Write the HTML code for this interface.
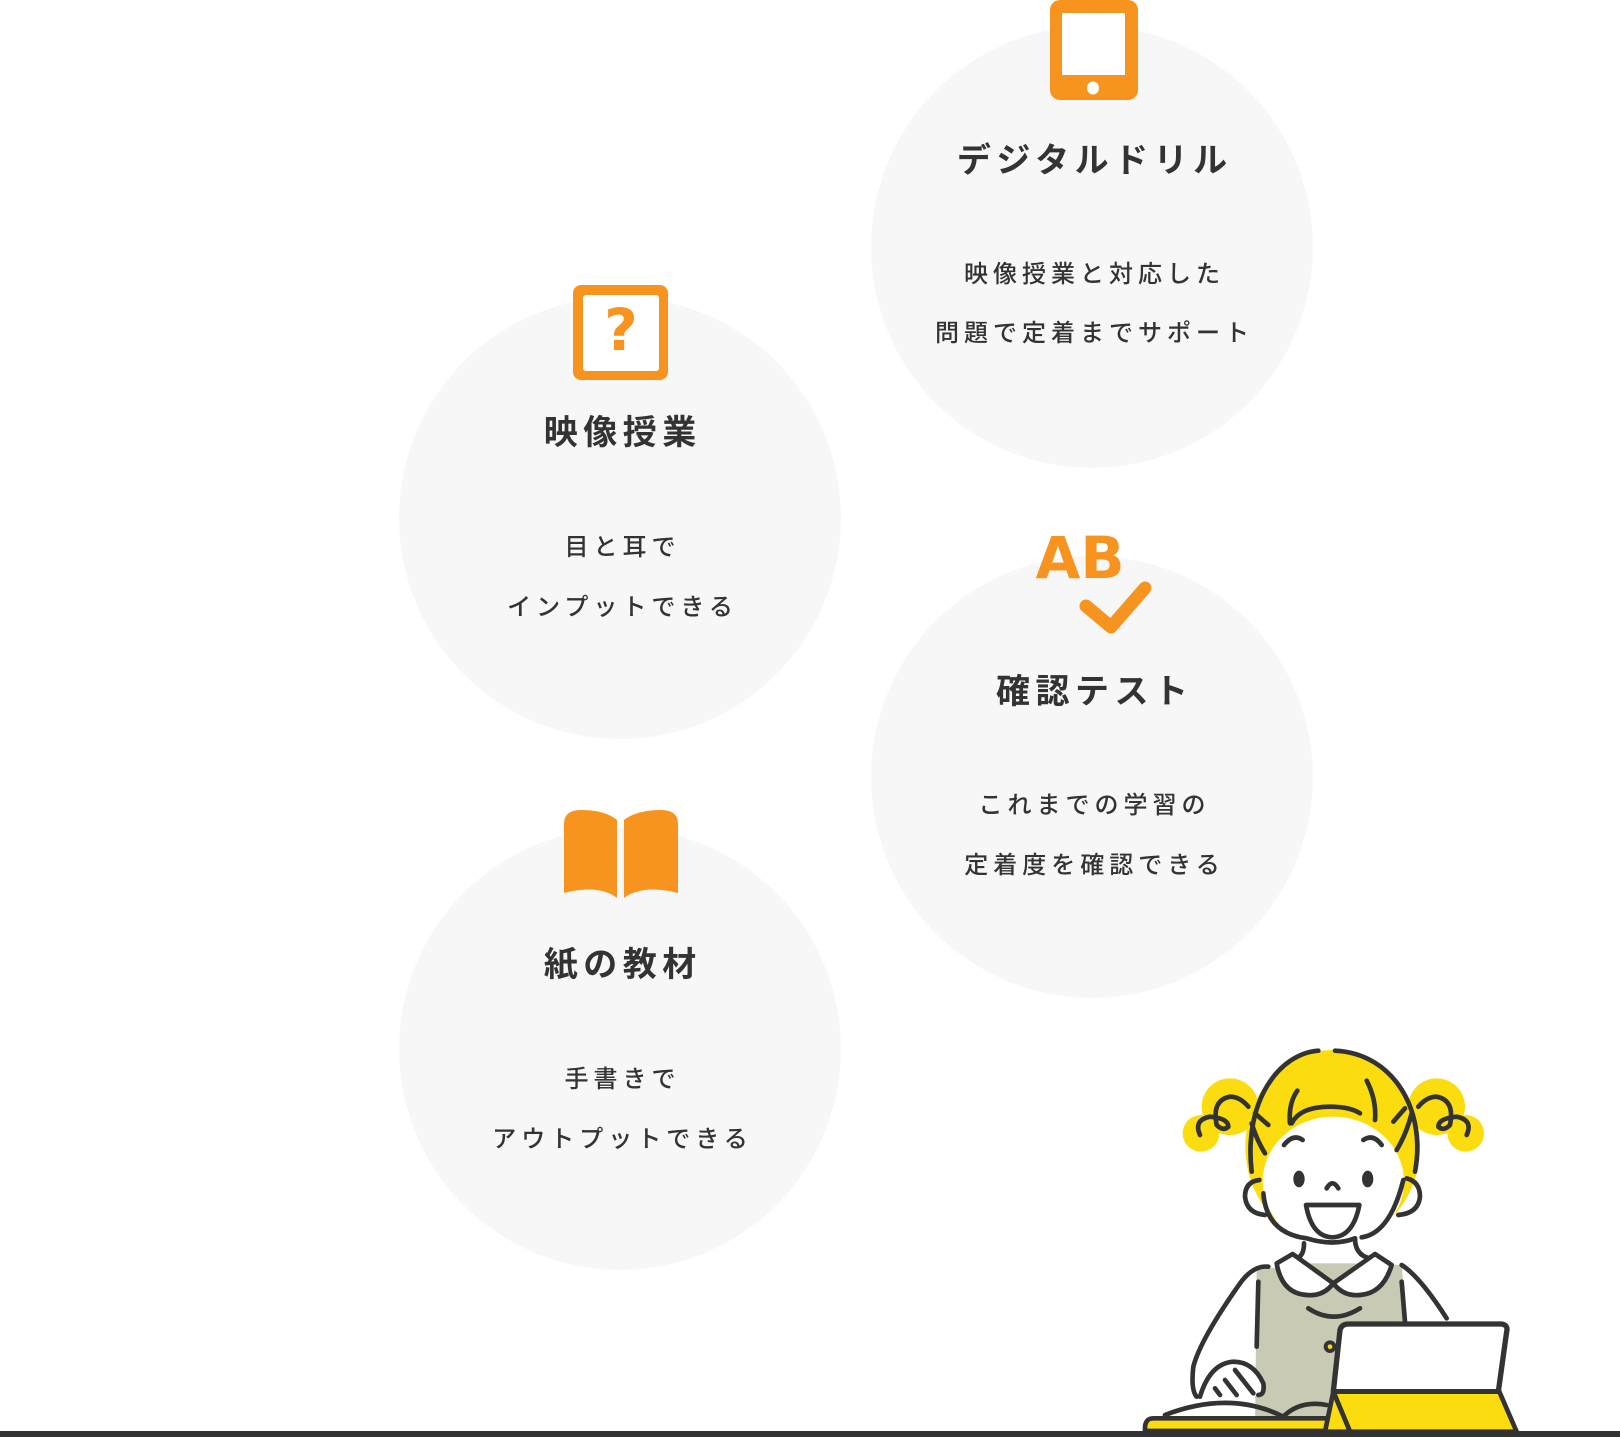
<!DOCTYPE html>
<html><head><meta charset="utf-8"><style>
html,body{margin:0;padding:0;background:#fff;}
body{width:1620px;height:1437px;position:relative;overflow:hidden;font-family:"Liberation Sans","Noto Sans CJK JP",sans-serif;color:#333;}
.c{position:absolute;border-radius:50%;background:#f7f7f7;width:442px;height:442px;}
.t{position:absolute;box-sizing:border-box;width:600px;text-align:center;font-weight:700;font-size:34px;letter-spacing:5.5px;padding-left:5.5px;line-height:40px;}
.d{position:absolute;box-sizing:border-box;width:600px;text-align:center;font-size:24px;font-weight:500;letter-spacing:5px;padding-left:5px;line-height:30px;}
svg{position:absolute;}
</style></head><body>
<div class="c" style="left:871px;top:26px"></div>
<div class="c" style="left:399px;top:297px"></div>
<div class="c" style="left:871px;top:556px"></div>
<div class="c" style="left:399px;top:828px"></div>

<div class="t" style="left:792px;top:141px">デジタルドリル</div>
<div class="d" style="left:792px;top:260px">映像授業と対応した</div>
<div class="d" style="left:792px;top:319px">問題で定着までサポート</div>

<div class="t" style="left:320px;top:413px">映像授業</div>
<div class="d" style="left:320px;top:533px">目と耳で</div>
<div class="d" style="left:320px;top:593px">インプットできる</div>

<div class="t" style="left:792px;top:672px">確認テスト</div>
<div class="d" style="left:792px;top:791px">これまでの学習の</div>
<div class="d" style="left:792px;top:851px">定着度を確認できる</div>

<div class="t" style="left:320px;top:945px">紙の教材</div>
<div class="d" style="left:320px;top:1065px">手書きで</div>
<div class="d" style="left:320px;top:1125px">アウトプットできる</div>

<svg width="1620" height="1437" style="left:0;top:0">
 <g fill="#f7941f">
  <rect x="1050" y="0" width="88" height="100" rx="10"/>
  <rect x="1062" y="13" width="63" height="62" fill="#fff"/>
  <ellipse cx="1093" cy="88" rx="6" ry="6.5" fill="#fff"/>
  <rect x="573" y="285" width="95" height="95" rx="8"/>
  <rect x="583" y="295" width="76" height="76" rx="3" fill="#fff"/>
  <text x="621" y="350" text-anchor="middle" font-size="58" font-weight="700" font-family="DejaVu Sans,sans-serif">?</text>
  <text x="1080" y="578" text-anchor="middle" font-size="58" font-weight="700" font-family="DejaVu Sans,sans-serif">AB</text>
  <path d="M564,824 Q564,810 581,810 Q605,810 617,820 L617,898 Q599,884 564,893 Z"/>
  <path d="M678,824 Q678,810 661,810 Q637,810 624,820 L624,898 Q643,884 678,893 Z"/>
 </g>
 <path d="M1086,606 L1111,627 L1145,588" fill="none" stroke="#f7941f" stroke-width="13" stroke-linecap="round" stroke-linejoin="round"/>
 <rect x="0" y="1431" width="1620" height="6" fill="#333"/>
</svg>

<svg viewBox="0 0 1560 1311" width="520" height="437" style="left:1100px;top:1000px">
 <g fill="#fbdc0e">
  <ellipse cx="698" cy="440" rx="262" ry="290"/>
  <circle cx="390" cy="320" r="85"/><circle cx="303" cy="400" r="55"/>
  <circle cx="1010" cy="320" r="85"/><circle cx="1097" cy="400" r="55"/>
 </g>
 <ellipse cx="700" cy="545" rx="212" ry="195" fill="#fff"/>
 <polygon points="470,810 620,790 780,790 905,795 920,970 720,975 690,1290 465,1290" fill="#c8cab3"/>
 <g fill="none" stroke="#333" stroke-width="14" stroke-linecap="round" stroke-linejoin="round">
  <path d="M455,515 C430,300 540,160 655,152 M705,152 C880,160 980,330 945,515"/>
  <path d="M575,370 Q600,320 690,320 Q750,320 780,340"/>
  <path d="M570,370 Q565,310 592,272 M800,242 Q830,300 825,360 M465,340 L505,375 M455,370 Q470,420 495,460 M880,365 L915,325 M890,450 Q920,400 935,340"/>
  <path d="M300,405 Q280,360 330,350 Q385,355 385,380 Q370,395 350,375 Q335,300 390,290 Q420,290 445,320"/>
  <path d="M1100,405 Q1120,360 1070,350 Q1015,355 1015,380 Q1030,395 1050,375 Q1065,300 1010,290 Q980,290 955,320"/>
  <path d="M478,540 Q435,545 435,590 Q440,640 495,645"/>
  <path d="M920,535 Q960,545 960,590 Q955,640 895,645"/>
  <path d="M552,435 Q580,400 608,420 M790,420 Q820,400 845,435"/>
  <path d="M680,565 Q697,535 715,565"/>
  <path d="M490,580 Q500,700 620,715 Q700,740 765,715 M785,712 Q870,700 910,540"/>
  <path d="M612,730 Q612,765 592,775 M765,715 Q765,765 810,775"/>
  <path d="M505,800 Q460,795 420,850 Q300,1020 280,1100 Q272,1170 290,1190 M905,795 Q960,830 1040,955"/>
  <path d="M475,845 L470,1040 M905,845 L915,965"/>
  <path d="M625,925 Q700,975 780,925"/>
  <path d="M195,1245 Q390,1170 550,1250 Q600,1200 680,1215"/>
 </g>
 <path d="M618,615 L778,615 Q760,710 697,712 Q635,710 618,615 Z" fill="#fff" stroke="#333" stroke-width="14" stroke-linejoin="round"/>
 <ellipse cx="597" cy="537" rx="17" ry="25" fill="#333"/><ellipse cx="803" cy="537" rx="17" ry="25" fill="#333"/>
 <path d="M530,790 L578,762 L700,850 L825,762 L875,795 Q850,880 780,885 Q730,890 700,850 Q670,890 620,885 Q545,880 530,790 Z" fill="#fff" stroke="#333" stroke-width="14" stroke-linejoin="round"/>
 <path d="M300,1190 Q330,1090 400,1085 Q460,1085 490,1150 Q495,1185 475,1185" fill="#fff" stroke="#333" stroke-width="14" stroke-linecap="round"/>
 <path d="M405,1110 L460,1180 M375,1140 L410,1185 M345,1165 L360,1185" stroke="#333" stroke-width="14" stroke-linecap="round"/>
 <circle cx="690" cy="1040" r="13" fill="#fbdc0e" stroke="#333" stroke-width="12"/>
 <path d="M135,1285 Q135,1255 160,1255 L690,1255 L690,1293 L135,1293 Z" fill="#fbdc0e" stroke="#333" stroke-width="14" stroke-linejoin="round"/>
 <path d="M720,990 Q725,972 745,972 L1205,972 Q1225,975 1220,995 L1195,1175 L700,1175 Z" fill="#fff" stroke="#333" stroke-width="16" stroke-linejoin="round"/>
 <path d="M700,1175 L1198,1175 L1250,1295 L750,1295 Z" fill="#fbdc0e" stroke="#333" stroke-width="14" stroke-linejoin="round"/>
 <path d="M700,1175 L675,1295 L750,1295 Z" fill="#fbdc0e" stroke="#333" stroke-width="14" stroke-linejoin="round"/>
</svg>
</body></html>
